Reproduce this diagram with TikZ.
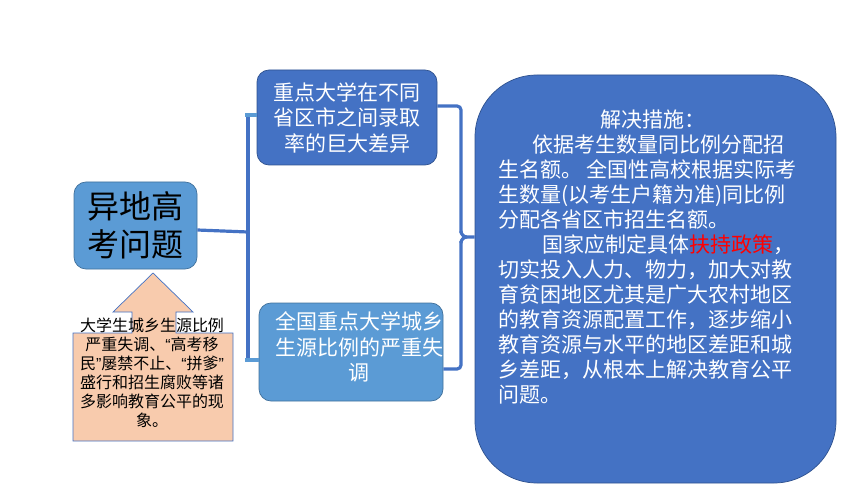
\documentclass[tikz,border=0pt]{standalone}
\usepackage{fontspec}
\setmainfont{Noto Sans CJK SC}
\newfontfamily\quotefont{Liberation Sans}
\usetikzlibrary{positioning}

\definecolor{boxblue}{HTML}{4472C4}
\definecolor{lightblue}{HTML}{5B9BD5}
\definecolor{peach}{HTML}{F8CBAD}
\definecolor{darkline}{HTML}{2F528F}
\definecolor{midline}{HTML}{41719C}

\newcommand{\openq}{{\quotefont “}}
\newcommand{\closeq}{{\quotefont ”}}

\begin{document}
\begin{tikzpicture}[x=1pt,y=-1pt,
    topic/.style={draw=midline,fill=lightblue,rounded corners=12pt,line width=0.7pt,inner sep=0pt},
    point/.style={draw=darkline,fill=boxblue,rounded corners=12pt,line width=0.7pt,inner sep=0pt},
    bodytext/.style={text=white,align=center,inner sep=0pt,font=\fontsize{21}{25.5}\selectfont},
    brace/.style={draw=boxblue,line width=3.2pt},
    stub/.style={draw=lightblue,line width=3.5pt}]
    \useasboundingbox (0,0) rectangle (860,484);

    % main question and its cause
    \node[topic,minimum width=123pt,minimum height=87pt,font=\fontsize{32}{38}\selectfont,align=center]
        (issue) at (135.5,225.5) {异地高\\考问题};
    \draw[draw=boxblue,fill=peach,line width=0.7pt] (153,273) -- (193,312) -- (176,312) -- (176,333)
        -- (233,333) -- (233,441) -- (73,441) -- (73,333) -- (132,333) -- (132,312) -- (113,312) -- cycle;
    \node[align=center,inner sep=0pt,font=\fontsize{16}{19}\selectfont] (cause) at (152,373)
        {大学生城乡生源比例\\严重失调、\openq 高考移\\民\closeq 屡禁不止、\openq 拼爹\closeq\\盛行和招生腐败等诸\\多影响教育公平的现\\象。};

    % the two problems
    \node[point,minimum width=180pt,minimum height=95pt,text=white,align=center,font=\fontsize{21}{25.5}\selectfont]
        (gap) at (347,117.5) {重点大学在不同\\省区市之间录取\\率的巨大差异};
    \node[topic,minimum width=184pt,minimum height=98pt] (ratio) at (351,352) {};
    \node[bodytext] (ratiotext) at (359,347) {全国重点大学城乡\\生源比例的严重失\\调};

    % left bracket
    \coordinate (fork) at (248,232);
    \coordinate (forktop) at (248,115);
    \coordinate (forkbot) at (248,360);
    \draw[brace] (issue.east |- 0,230) -- (fork);
    \draw[brace] (forktop) -- (forkbot);
    \draw[stub] (245,115) -- (gap.west |- forktop);
    \draw[stub] (245,360) -- (ratio.west |- forkbot);

    % solution
    \node[draw=darkline,fill=boxblue,rounded corners=62pt,line width=0.7pt,minimum width=361pt,minimum height=408pt]
        (solve) at (655.5,279) {};
    \node[text=white,align=left,inner sep=0pt,anchor=north west,font=\fontsize{21}{25}\selectfont] (solvetext) at (498,110)
        {\hspace*{102pt}解决措施：\\
         \hspace*{34pt}依据考生数量同比例分配招\\
         生名额。 全国性高校根据实际考\\
         生数量(以考生户籍为准)同比例\\
         分配各省区市招生名额。\\
         \hspace*{44pt}国家应制定具体\textcolor{red}{扶持政策}，\\
         切实投入人力、物力，加大对教\\
         育贫困地区尤其是广大农村地区\\
         的教育资源配置工作，逐步缩小\\
         教育资源与水平的地区差距和城\\
         乡差距，从根本上解决教育公平\\
         问题。};

    % right brace
    \coordinate (cusp) at (solve.west |- 0,237);
    \draw[brace,rounded corners=4pt] (gap.east |- 0,106) -- (461,106) -- (461,233);
    \draw[brace] (461,231) to[out=-90,in=180] (467,237) -- (cusp);
    \draw[brace] (467,237) to[out=180,in=90] (461,243);
    \draw[brace,rounded corners=4pt] (461,241) -- (461,369) -- (ratio.east |- 0,369);
\end{tikzpicture}
\end{document}
